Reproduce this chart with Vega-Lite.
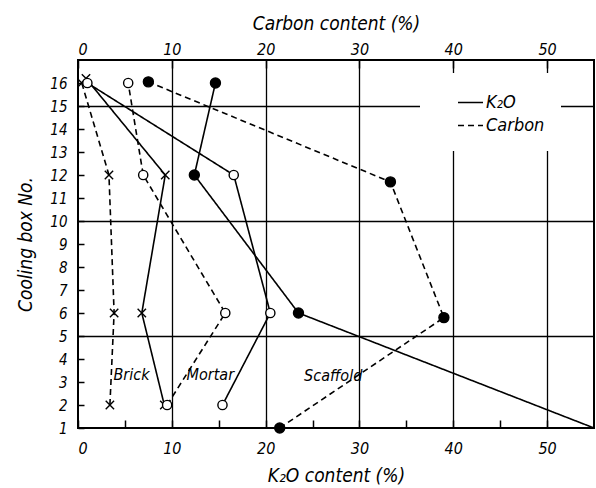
{
  "$schema": "https://vega.github.io/schema/vega-lite/v6.json",
  "autosize": {"type": "none"},
  "padding": {"left": 78, "top": 60, "right": 2, "bottom": 60},
  "width": 516,
  "height": 368,
  "background": "white",
  "datasets": {
    "obs": [
      {"series": "Brick", "measure": "K₂O", "box": 16.2, "value": 0.85},
      {"series": "Brick", "measure": "K₂O", "box": 12, "value": 9.3},
      {"series": "Brick", "measure": "K₂O", "box": 6, "value": 6.8},
      {"series": "Brick", "measure": "K₂O", "box": 2, "value": 9.2},
      {"series": "Brick", "measure": "Carbon", "box": 16, "value": 0.4},
      {"series": "Brick", "measure": "Carbon", "box": 12, "value": 3.3},
      {"series": "Brick", "measure": "Carbon", "box": 6, "value": 3.85},
      {"series": "Brick", "measure": "Carbon", "box": 2, "value": 3.4},
      {"series": "Mortar", "measure": "K₂O", "box": 16, "value": 1.0},
      {"series": "Mortar", "measure": "K₂O", "box": 12, "value": 16.6},
      {"series": "Mortar", "measure": "K₂O", "box": 6, "value": 20.5},
      {"series": "Mortar", "measure": "K₂O", "box": 2, "value": 15.4},
      {"series": "Mortar", "measure": "Carbon", "box": 16, "value": 5.35},
      {"series": "Mortar", "measure": "Carbon", "box": 12, "value": 6.95},
      {"series": "Mortar", "measure": "Carbon", "box": 6, "value": 15.7},
      {"series": "Mortar", "measure": "Carbon", "box": 2, "value": 9.5},
      {"series": "Scaffold", "measure": "K₂O", "box": 16, "value": 14.65},
      {"series": "Scaffold", "measure": "K₂O", "box": 12, "value": 12.4},
      {"series": "Scaffold", "measure": "K₂O", "box": 6, "value": 23.5},
      {"series": "Scaffold", "measure": "K₂O", "box": 1, "value": 55},
      {"series": "Scaffold", "measure": "Carbon", "box": 16.05, "value": 7.5},
      {"series": "Scaffold", "measure": "Carbon", "box": 11.7, "value": 33.3},
      {"series": "Scaffold", "measure": "Carbon", "box": 5.8, "value": 39.0},
      {"series": "Scaffold", "measure": "Carbon", "box": 1, "value": 21.5}
    ],
    "labels": [
      {"series": "Brick", "value": 5.7, "box": 3.3},
      {"series": "Mortar", "value": 14.1, "box": 3.3},
      {"series": "Scaffold", "value": 27.2, "box": 3.25}
    ]
  },
  "config": {
    "view": {"stroke": "black", "strokeWidth": 2},
    "font": "DejaVu Sans Condensed, Liberation Sans Narrow, DejaVu Sans, sans-serif",
    "axis": {
      "labelFontStyle": "italic",
      "titleFontStyle": "italic",
      "titleFontWeight": "normal",
      "labelColor": "black",
      "titleColor": "black",
      "tickColor": "black",
      "tickOpacity": 1,
      "gridColor": "black",
      "domain": false,
      "labelOverlap": false,
      "zindex": 1,
      "labelFont": "DejaVu Sans Condensed, Liberation Sans Narrow, DejaVu Sans, sans-serif",
      "titleFont": "DejaVu Sans Condensed, Liberation Sans Narrow, DejaVu Sans, sans-serif"
    }
  },
  "resolve": {"scale": {"x": "independent"}},
  "encoding": {
    "y": {
      "field": "box", "type": "quantitative",
      "scale": {"domain": [1, 17], "nice": false, "zero": false},
      "axis": {
        "title": "Cooling box No.",
        "titleFontSize": 19,
        "titlePadding": 14,
        "values": [1, 2, 3, 4, 5, 6, 7, 8, 9, 10, 11, 12, 13, 14, 15, 16],
        "labelFontSize": 15,
        "labelPadding": 11,
        "labelOverlap": false,
        "offset": -6,
        "ticks": true,
        "tickSize": 6,
        "tickWidth": 1.5,
        "tickColor": "black",
        "grid": true,
        "gridWidth": 1.3,
        "gridOpacity": {"condition": {"test": "datum.value % 5 === 0", "value": 1}, "value": 0}
      }
    }
  },
  "layer": [
    {
      "data": {"name": "obs"},
      "transform": [{"filter": "datum.measure === 'K₂O'"}],
      "mark": {"type": "line", "color": "black", "strokeWidth": 1.6},
      "encoding": {
        "x": {
          "field": "value", "type": "quantitative",
          "scale": {"domain": [0, 55], "nice": false, "zero": false},
          "axis": {
            "orient": "bottom",
            "title": "K₂O content (%)",
            "titleFontSize": 19,
            "titlePadding": 10,
            "values": [0, 5, 10, 15, 20, 25, 30, 35, 40, 45, 50],
            "labelExpr": "datum.value % 10 === 0 ? datum.label : ''",
            "labelFontSize": 16,
            "labelPadding": 12,
            "labelOverlap": false,
            "offset": -8,
            "ticks": true,
            "tickSize": 8,
            "tickWidth": 1.5,
            "tickColor": "black",
            "grid": true,
            "gridWidth": 1.3,
            "gridOpacity": {"condition": {"test": "datum.value % 10 === 0 && datum.value > 0", "value": 1}, "value": 0}
          }
        },
        "detail": {"field": "series"},
        "order": {"field": "box", "type": "quantitative"},
        "strokeDash": {
          "field": "measure", "type": "nominal",
          "scale": {"domain": ["K₂O", "Carbon"], "range": [[1, 0], [6, 4]]},
          "legend": {
            "orient": "none",
            "legendX": 342,
            "legendY": 13,
            "zindex": 3,
            "title": null,
            "fillColor": "white",
            "padding": 16,
            "symbolOffset": 21,
            "symbolType": "stroke",
            "symbolSize": 625,
            "symbolStrokeColor": "black",
            "symbolStrokeWidth": 1.5,
            "labelFontSize": 18,
            "labelFontStyle": "italic",
            "labelColor": "black",
            "labelOffset": 2,
            "rowPadding": -6
          }
        }
      }
    },
    {
      "data": {"name": "obs"},
      "transform": [{"filter": "datum.measure === 'Carbon'"}],
      "mark": {"type": "line", "color": "black", "strokeWidth": 1.6},
      "encoding": {
        "x": {
          "field": "value", "type": "quantitative",
          "scale": {"domain": [0, 55], "nice": false, "zero": false},
          "axis": {
            "orient": "top",
            "title": "Carbon content (%)",
            "titleFontSize": 19,
            "titlePadding": 8,
            "values": [0, 10, 20, 30, 40, 50],
            "labelFontSize": 16,
            "labelPadding": 3,
            "offset": -8,
            "ticks": true,
            "tickSize": 8,
            "tickWidth": 1.5,
            "tickColor": "black",
            "grid": false
          }
        },
        "detail": {"field": "series"},
        "order": {"field": "box", "type": "quantitative"},
        "strokeDash": {"field": "measure", "type": "nominal"}
      }
    },
    {
      "data": {"name": "obs"},
      "transform": [{"filter": "datum.value < 55"}],
      "mark": {"type": "point", "stroke": "black", "strokeWidth": 1.4, "opacity": 1},
      "encoding": {
        "x": {"field": "value", "type": "quantitative", "scale": {"domain": [0, 55], "nice": false, "zero": false}, "axis": null},
        "shape": {
          "field": "series", "type": "nominal",
          "scale": {"domain": ["Brick", "Mortar", "Scaffold"], "range": ["M-1,-1L1,1M-1,1L1,-1", "circle", "circle"]},
          "legend": null
        },
        "fill": {
          "field": "series", "type": "nominal",
          "scale": {"domain": ["Brick", "Mortar", "Scaffold"], "range": ["transparent", "white", "black"]},
          "legend": null
        },
        "size": {
          "field": "series", "type": "nominal",
          "scale": {"domain": ["Brick", "Mortar", "Scaffold"], "range": [70, 100, 80]},
          "legend": null
        }
      }
    },
    {
      "data": {"name": "labels"},
      "mark": {"type": "text", "fontSize": 16, "fontStyle": "italic", "color": "black"},
      "encoding": {
        "x": {"field": "value", "type": "quantitative", "scale": {"domain": [0, 55], "nice": false, "zero": false}, "axis": null},
        "text": {"field": "series"}
      }
    }
  ]
}
